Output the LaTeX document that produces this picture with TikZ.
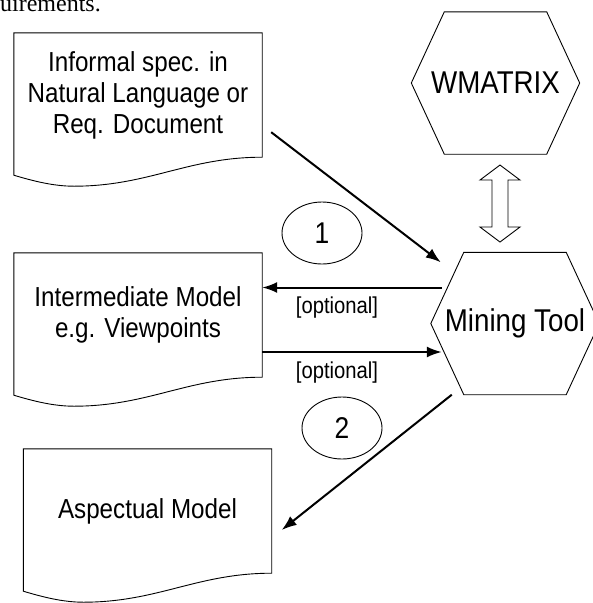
\documentclass[tikz,border=0pt]{standalone}
\usepackage{fontspec}
\setmainfont{Liberation Sans}[FakeStretch=0.88]
\newfontfamily\bodyserif{Liberation Serif}
\usepackage{tikz}
\usetikzlibrary{shapes,arrows,positioning,calc,arrows.meta}

\tikzset{
    docbox/.style={minimum width=248pt, minimum height=124pt, inner sep=0pt, align=center, font=\fontsize{27.5}{31}\selectfont},
    hexbox/.style={minimum width=168pt, minimum height=142pt, inner sep=0pt, font=\fontsize{31.5}{34}\selectfont},
    stepnum/.style={ellipse, draw, line width=0.9pt, minimum width=80pt, minimum height=62pt, inner sep=0pt, font=\fontsize{30}{32}\selectfont},
    optlabel/.style={inner sep=0pt, font=\fontsize{23}{26}\selectfont},
    flow/.style={line width=2pt, -{Latex[length=15pt,width=11pt]}},
    shapeline/.style={line width=0.9pt, line join=miter}
}

\begin{document}
\begin{tikzpicture}[x=1pt, y=-1pt]
    \useasboundingbox (0,0) rectangle (593,603);

    % end of the page text above the figure
    \node[anchor=base east, inner sep=0pt, font=\bodyserif\fontsize{24}{28}\selectfont] (pagetext) at (101,11) {requirements.};

    \node[docbox] (spec) at (138,95) {Informal spec. in\\Natural Language or\\Req. Document};
    \node[docbox] (imm) at (138,315) {Intermediate Model\\e.g. Viewpoints};
    \node[docbox] (asp) at (147.5,511) {Aspectual Model};

    \node[hexbox] (wm) at (495.5,83) {WMATRIX};
    \node[hexbox] (mine) at (515,323.5) {Mining Tool};

    % documents with wavy bottom
    \foreach \n in {spec,imm,asp}
        \draw[shapeline] (\n.south east) -- (\n.north east) -- (\n.north west) -- ([shift={(0,18)}]\n.south west)
            .. controls +(20,6) and +(-20,0) .. ([shift={(60,29)}]\n.south west)
            .. controls +(75,0) and +(-75,0) .. (\n.south east) -- cycle;

    % hexagons
    \foreach \n in {wm,mine}
        \draw[shapeline] (\n.west) -- ([xshift=33pt]\n.north west) -- ([xshift=-33pt]\n.north east) -- (\n.east)
            -- ([xshift=-33pt]\n.south east) -- ([xshift=33pt]\n.south west) -- cycle;

    % open double arrow between WMATRIX and the tool
    \coordinate (link) at (500,203.5);
    \draw[shapeline, fill=white] ([shift={(0,-38.5)}]link) -- ++(20,15) -- ++(-12,0) -- ++(0,47) -- ++(12,0) -- ++(-20,15)
        -- ++(-20,-15) -- ++(12,0) -- ++(0,-47) -- ++(-12,0) -- cycle;

    \draw[flow] ([shift={(9,-25)}]spec.south east) -- ([shift={(10,10)}]mine.north west);
    \draw[flow] ([shift={(11,-36)}]mine.west) -- ([shift={(0,-27.5)}]imm.east);
    \draw[flow] ([shift={(0,37)}]imm.east) -- ([shift={(11,28.5)}]mine.west);
    \draw[flow] ([shift={(21,0)}]mine.south west) -- ([shift={(10,19)}]asp.east);

    \node[stepnum] (one) at (322,233) {1};
    \node[stepnum] (two) at (342,428) {2};

    \node[optlabel] (optback) at (337,308) {[optional]};
    \node[optlabel] (optfwd) at (337,373) {[optional]};
\end{tikzpicture}
\end{document}
